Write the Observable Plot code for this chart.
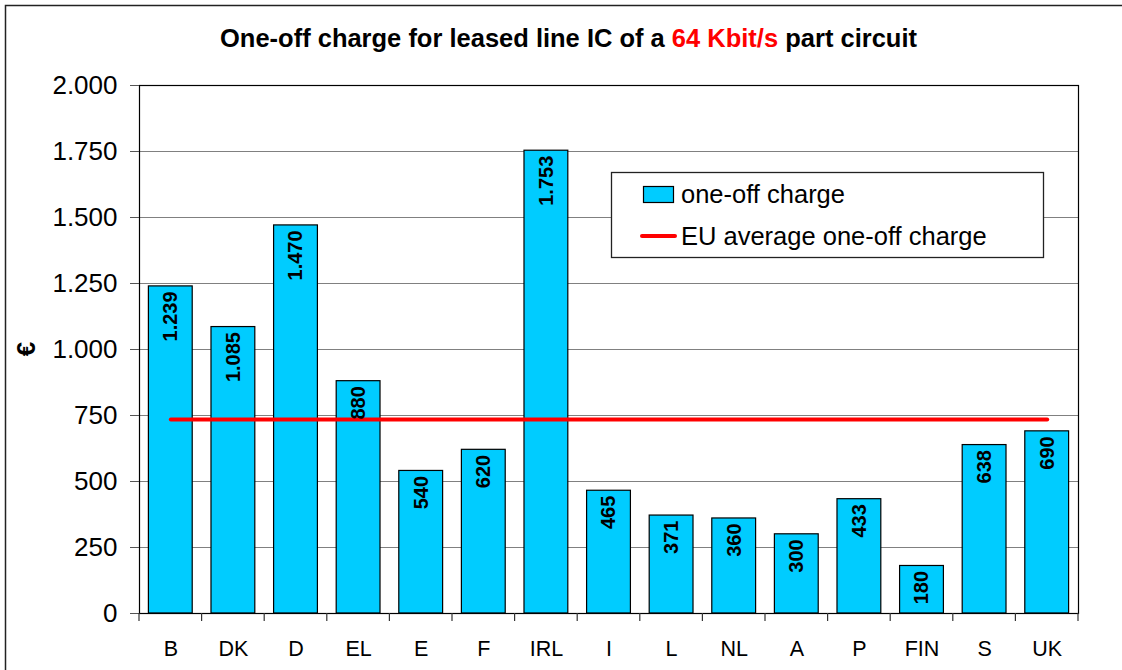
<!DOCTYPE html>
<html>
<head>
<meta charset="utf-8">
<script src="https://cdn.jsdelivr.net/npm/d3@7"></script>
<script src="https://cdn.jsdelivr.net/npm/@observablehq/plot@0.6"></script>
<style>
  html, body { margin: 0; padding: 0; background: white; }
  #chart svg { display: block; }
</style>
</head>
<body>
<div id="chart"></div>
<script>
const categories = ["B","DK","D","EL","E","F","IRL","I","L","NL","A","P","FIN","S","UK"];
const values = [1239,1085,1470,880,540,620,1753,465,371,360,300,433,180,638,690];
const euAverage = 735;
const yTicks = [0,250,500,750,1000,1250,1500,1750,2000];
const titleParts = [
  {text: "One-off charge for leased line IC of a ", color: "black"},
  {text: "64 Kbit/s", color: "#ff0000"},
  {text: " part circuit", color: "black"}
];
const legendLabels = ["one-off charge", "EU average one-off charge"];
const yLabel = "€";

const barColor = "#00CCFF";
const font = "'Liberation Sans', Arial, sans-serif";
const fmt = d3.formatLocale({decimal: ",", thousands: ".", grouping: [3], currency: ["", "€"]}).format(",");

const data = categories.map((c, i) => ({cat: c, value: values[i]}));
const avgData = [
  {cat: categories[0], value: euAverage},
  {cat: categories[categories.length - 1], value: euAverage}
];

const plot = Plot.plot({
  width: 1122,
  height: 670,
  marginLeft: 139,
  marginRight: 44,
  marginTop: 85,
  marginBottom: 57,
  style: {fontFamily: font, background: "white", color: "black"},
  x: {domain: categories, paddingInner: 0.3, paddingOuter: 0.15, round: false, axis: null, label: null},
  y: {domain: [0, 2000], axis: null, label: null},
  marks: [
    Plot.gridY(yTicks, {stroke: "#808080", strokeOpacity: 1, strokeWidth: 1}),
    Plot.barY(data, {x: "cat", y: "value", fill: barColor, stroke: "black", strokeWidth: 1.2}),
    Plot.lineY(avgData, {x: "cat", y: "value", stroke: "#ff0000", strokeWidth: 4}),
    Plot.text(data, {
      x: "cat", y: "value", text: d => fmt(d.value),
      rotate: -90, textAnchor: "end", dy: 5,
      fontSize: 20, fontWeight: "bold", fill: "black"
    }),
    Plot.frame({stroke: "black", strokeWidth: 1.2}),
    Plot.axisY({ticks: yTicks, tickSize: 9, tickPadding: 13, tickFormat: fmt, fontSize: 26, stroke: "#555", label: null}),
    Plot.axisX({tickSize: 0, tickPadding: 27, fontSize: 21.5, label: null})
  ]
});

document.getElementById("chart").appendChild(plot);

const svg = d3.select(plot);
const xs = plot.scale("x");
const ys = plot.scale("y");

// outer chart border
svg.insert("rect", ":first-child")
  .attr("x", 5.5).attr("y", 5.5).attr("width", 1300).attr("height", 900)
  .attr("fill", "white").attr("stroke", "#222").attr("stroke-width", 1.5);

// category boundary ticks on the x axis
const x0 = xs.range[0];
const y0 = ys.apply(0);
const bounds = d3.range(categories.length + 1).map(i => x0 + i * xs.step);
svg.append("g").selectAll("line").data(bounds).join("line")
  .attr("x1", d => d).attr("x2", d => d)
  .attr("y1", y0).attr("y2", y0 + 8)
  .attr("stroke", "#333").attr("stroke-width", 1.2);

// title
const title = svg.append("text")
  .attr("x", 0).attr("y", 0)
  .attr("text-anchor", "start")
  .attr("font-family", "'Liberation Sans Narrow', 'Arial Narrow', 'Liberation Sans', Arial, sans-serif")
  .attr("font-weight", "bold").attr("font-size", 26.5);
title.selectAll("tspan").data(titleParts).join("tspan")
  .attr("fill", d => d.color).style("white-space", "pre").text(d => d.text);
const tw = title.node().getComputedTextLength();
const targetW = 697;
const sx = targetW / tw;
title.attr("transform", `translate(${568.5 - targetW / 2},47) scale(${sx},1)`);

// y label
svg.append("text")
  .attr("transform", "translate(35,349) rotate(-90)")
  .attr("text-anchor", "middle")
  .attr("font-family", font).attr("font-weight", "bold").attr("font-size", 26)
  .text(yLabel);

// legend
const lg = svg.append("g").attr("font-family", font).attr("font-size", 25.5).attr("text-anchor", "start");
lg.append("rect").attr("x", 611.5).attr("y", 172.5).attr("width", 432).attr("height", 85)
  .attr("fill", "white").attr("stroke", "#222").attr("stroke-width", 1.3);
lg.append("rect").attr("x", 643.5).attr("y", 186.5).attr("width", 30).attr("height", 16)
  .attr("fill", barColor).attr("stroke", "black").attr("stroke-width", 1.2);
lg.append("text").attr("x", 681).attr("y", 203).text(legendLabels[0]);
lg.append("line").attr("x1", 642).attr("x2", 675).attr("y1", 236).attr("y2", 236)
  .attr("stroke", "#ff0000").attr("stroke-width", 4).attr("stroke-linecap", "round");
lg.append("text").attr("x", 681).attr("y", 245).text(legendLabels[1]);
</script>
</body>
</html>
